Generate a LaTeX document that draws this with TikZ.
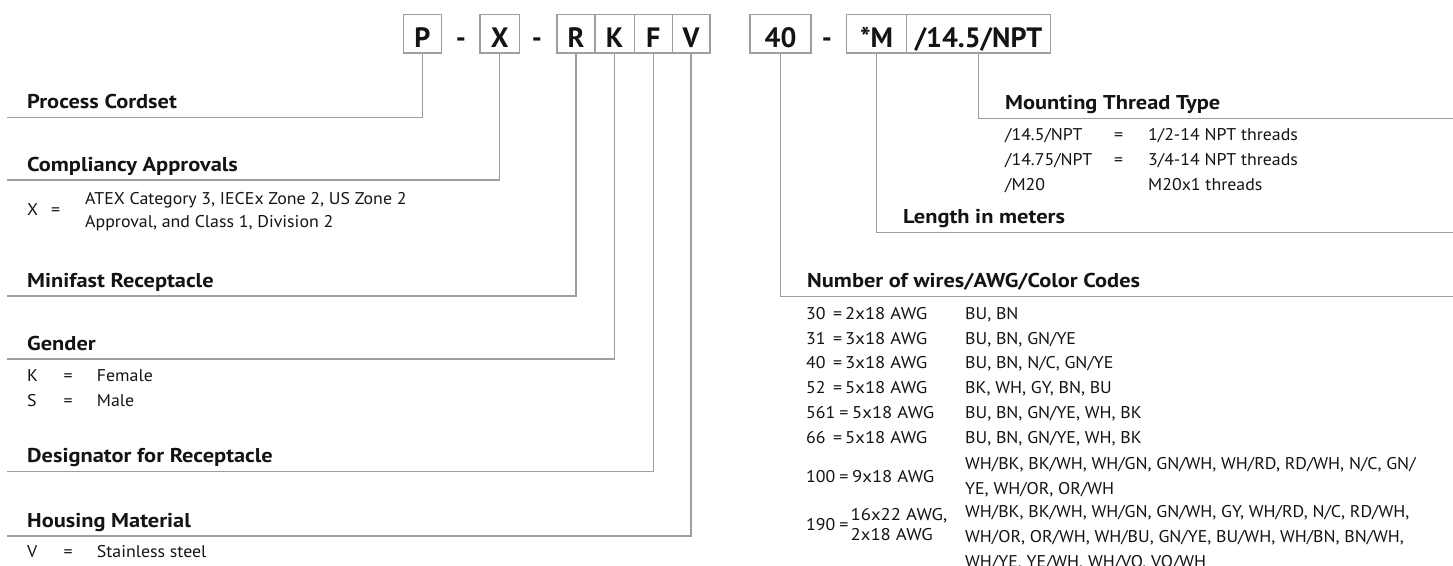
\documentclass[tikz,border=0pt]{standalone}
\usepackage{fontspec}
\setmainfont{PT Sans}
\newfontfamily\regfont{PT Sans}[FakeStretch=1.05]
\newfontfamily\ttlfont{PT Sans}[FakeStretch=1.12]
\newfontfamily\awgfont{PT Sans}[FakeStretch=1.1]
\definecolor{lgray}{RGB}{158,158,158}
\definecolor{ink}{RGB}{20,20,20}
\begin{document}
\begin{tikzpicture}[x=1pt,y=-1pt,
  ln/.style={draw=lgray,line width=1.4pt},
  codebox/.style={draw=lgray,line width=1.4pt,fill=white,inner sep=0pt,
    font=\fontsize{28}{28}\selectfont\bfseries,text=ink,text height=33pt,text depth=5.3pt},
  sepdash/.style={anchor=base,inner sep=0pt,font=\fontsize{28}{28}\selectfont\bfseries,text=ink},
  ttl/.style={anchor=base west,inner sep=0pt,font=\ttlfont\fontsize{20}{20}\selectfont\bfseries,text=ink},
  txt/.style={anchor=base west,inner sep=0pt,font=\regfont\fontsize{17}{17}\selectfont,text=ink},
  awg/.style={anchor=base west,inner sep=0pt,font=\awgfont\fontsize{17}{17}\selectfont,text=ink},
]
\useasboundingbox[fill=white] (0,0) rectangle (1453,565);

% code boxes
\node[codebox,minimum width=37.7pt] (P) at (422.4,33.85) {P};
\node[sepdash] (d1) at (461,47.7) {-};
\node[codebox,minimum width=39.1pt] (X) at (499.7,33.85) {X};
\node[sepdash] (d2) at (537,47.7) {-};
\node[codebox,minimum width=38.1pt] (R) at (576,33.85) {R};
\node[codebox,minimum width=39.1pt] (K) at (614.65,33.85) {K};
\node[codebox,minimum width=38.1pt] (F) at (653.25,33.85) {F};
\node[codebox,minimum width=37.7pt] (V) at (691.15,33.85) {V};
\node[codebox,minimum width=61pt] (N40) at (780.5,33.85) {40};
\node[sepdash] (d3) at (827,47.7) {-};
\node[codebox,minimum width=59.8pt] (M) at (876.6,33.85) {*M};
\node[codebox,minimum width=144pt] (T) at (978.5,33.85) {/14.5/NPT};

% connector ends
\coordinate (eP) at (7,117.3);
\coordinate (eX) at (7,180);
\coordinate (eR) at (7,296);
\coordinate (eK) at (7,359);
\coordinate (eF) at (7,471.7);
\coordinate (eV) at (7,536);
\coordinate (eT) at (1453,118.3);
\coordinate (eM) at (1453,232.7);
\coordinate (e40) at (1453,296.7);

\draw[ln] (P.south) |- (eP);
\draw[ln] (X.south) |- (eX);
\draw[ln] (R.south) |- (eR);
\draw[ln] (K.south) |- (eK);
\draw[ln] (F.south) |- (eF);
\draw[ln] (V.south) |- (eV);
\draw[ln] (T.south) |- (eT);
\draw[ln] (M.south) |- (eM);
\draw[ln] (N40.south) |- (e40);

% left sections
\node[ttl] (tP) at (27,108.3) {Process Cordset};
\node[ttl] (tX) at (27,171) {Compliancy Approvals};
\node[txt] (xa) at (27,215.5) {X};
\node[txt] (xb) at (51,215.5) {=};
\node[txt] (xc) at (85,204.3) {ATEX Category 3, IECEx Zone 2, US Zone 2};
\node[txt] (xd) at (85,227) {Approval, and Class 1, Division 2};
\node[ttl] (tR) at (27,287) {Minifast Receptacle};
\node[ttl] (tK) at (27,350) {Gender};
\node[txt] (ka) at (27,381) {K};
\node[txt] (kb) at (63.3,381) {=};
\node[txt] (kc) at (96.7,381) {Female};
\node[txt] (sa) at (27,406) {S};
\node[txt] (sb) at (63.3,406) {=};
\node[txt] (sc) at (96.7,406) {Male};
\node[ttl] (tF) at (27,462.7) {Designator for Receptacle};
\node[ttl] (tV) at (27,527) {Housing Material};
\node[txt] (va) at (27,557.7) {V};
\node[txt] (vb) at (63.3,557.7) {=};
\node[txt] (vc) at (96.7,557.7) {Stainless steel};

% mounting thread
\node[ttl] (tT) at (1005,109.3) {Mounting Thread Type};
\node[txt] (m1a) at (1005,140) {/14.5/NPT};
\node[txt] (m1b) at (1114,140) {=};
\node[txt] (m1c) at (1148,140) {1/2-14 NPT threads};
\node[txt] (m2a) at (1005,165) {/14.75/NPT};
\node[txt] (m2b) at (1114,165) {=};
\node[txt] (m2c) at (1148,165) {3/4-14 NPT threads};
\node[txt] (m3a) at (1005,190) {/M20};
\node[txt] (m3c) at (1148,190) {M20x1 threads};

% length
\node[ttl] (tM) at (903,223.7) {Length in meters};

% wires
\node[ttl] (t40) at (807,287.7) {Number of wires/AWG/Color Codes};
\node[txt] (w1a) at (806,319.3) {30};
\node[txt] (w1b) at (833,319.3) {=};
\node[awg] (w1d) at (845,319.3) {2x18 AWG};
\node[txt] (w1c) at (965,319.3) {BU, BN};
\node[txt] (w2a) at (806,344.1) {31};
\node[txt] (w2b) at (833,344.1) {=};
\node[awg] (w2d) at (845,344.1) {3x18 AWG};
\node[txt] (w2c) at (965,344.1) {BU, BN, GN/YE};
\node[txt] (w3a) at (806,368.9) {40};
\node[txt] (w3b) at (833,368.9) {=};
\node[awg] (w3d) at (845,368.9) {3x18 AWG};
\node[txt] (w3c) at (965,368.9) {BU, BN, N/C, GN/YE};
\node[txt] (w4a) at (806,393.7) {52};
\node[txt] (w4b) at (833,393.7) {=};
\node[awg] (w4d) at (845,393.7) {5x18 AWG};
\node[txt] (w4c) at (965,393.7) {BK, WH, GY, BN, BU};
\node[txt] (w5a) at (806,418.5) {561};
\node[txt] (w5b) at ([xshift=3.5pt]w5a.base east) {=};
\node[awg] (w5d) at ([xshift=3.5pt]w5b.base east) {5x18 AWG};
\node[txt] (w5c) at (965,418.5) {BU, BN, GN/YE, WH, BK};
\node[txt] (w6a) at (806,443.3) {66};
\node[txt] (w6b) at (833,443.3) {=};
\node[awg] (w6d) at (845,443.3) {5x18 AWG};
\node[txt] (w6c) at (965,443.3) {BU, BN, GN/YE, WH, BK};
\node[txt] (w7a) at (806,482) {100};
\node[txt] (w7b) at ([xshift=3.5pt]w7a.base east) {=};
\node[awg] (w7d) at ([xshift=3.5pt]w7b.base east) {9x18 AWG};
\node[txt] (w7c) at (965,469.5) {WH/BK, BK/WH, WH/GN, GN/WH, WH/RD, RD/WH, N/C, GN/};
\node[txt] (w7e) at (965,494.5) {YE, WH/OR, OR/WH};
\node[txt] (w8a) at (806,530) {190};
\node[txt] (w8b) at ([xshift=3.5pt]w8a.base east) {=};
\node[awg] (w8c) at ([xshift=2pt]w8b.base east |- 0,520) {16x22 AWG,};
\node[awg] (w8d) at ([xshift=2pt]w8b.base east |- 0,540) {2x18 AWG};
\node[txt] (w8e) at (965,517.7) {WH/BK, BK/WH, WH/GN, GN/WH, GY, WH/RD, N/C, RD/WH,};
\node[txt] (w8f) at (965,542.7) {WH/OR, OR/WH, WH/BU, GN/YE, BU/WH, WH/BN, BN/WH,};
\node[txt] (w8g) at (965,567.7) {WH/YE, YE/WH, WH/VO, VO/WH};
\end{tikzpicture}
\end{document}
